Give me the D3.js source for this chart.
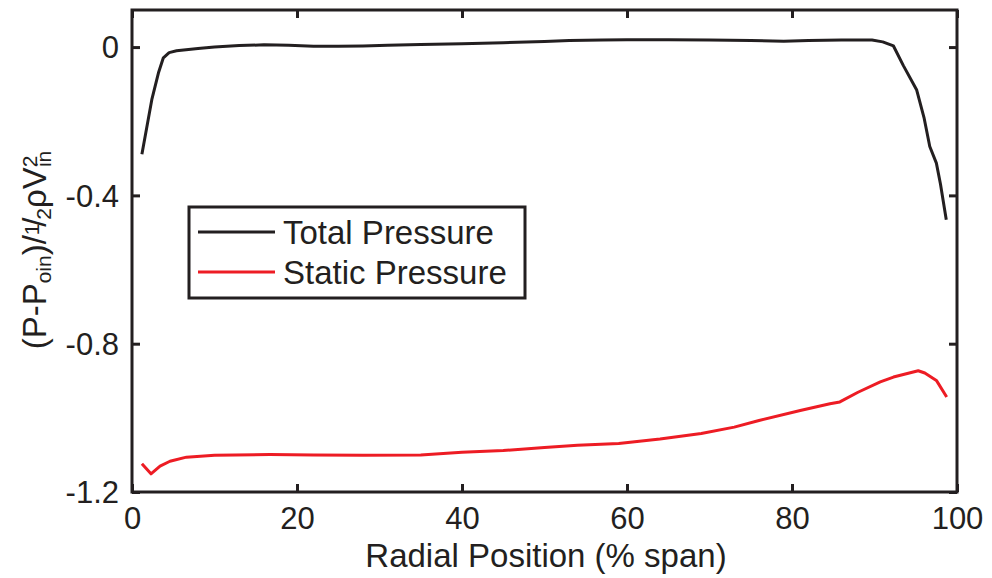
<!DOCTYPE html>
<meta charset="utf-8">
<head>
  <script src="https://d3js.org/d3.v7.min.js"></script>
  <style>
    body { margin: 0; background: #fff; }
    text { font-family: "Liberation Sans", Arial, sans-serif; fill: #231f20; }
  </style>
</head>
<body>
<div id="chart"></div>
<script>
  // radial position (% span) and pressure coefficient
  var totalX = [1.2, 2.4, 3.2, 3.8, 4.5, 5.4, 8, 10, 13, 16, 19, 22, 25, 28, 31, 35, 40, 45, 50, 53, 57, 60, 65, 70, 75, 79, 82, 86, 89.7, 91, 92.3, 93.5, 95.1, 96, 96.7, 97.5, 98, 98.7];
  var totalY = [-0.289, -0.142, -0.07, -0.029, -0.015, -0.01, -0.004, 0, 0.004, 0.006, 0.005, 0.002, 0.002, 0.003, 0.005, 0.007, 0.009, 0.012, 0.015, 0.018, 0.019, 0.02, 0.02, 0.019, 0.018, 0.016, 0.018, 0.019, 0.019, 0.014, 0.003, -0.05, -0.115, -0.19, -0.268, -0.313, -0.37, -0.466];

  var staticX = [1.2, 2.3, 3.4, 4.6, 6.6, 10, 16.7, 22, 28, 35, 40, 45, 50, 54, 59, 64, 69, 73, 76, 81, 84.6, 85.8, 88, 90.7, 92.3, 95.3, 96.1, 97.5, 98.75];
  var staticY = [-1.124, -1.151, -1.13, -1.117, -1.106, -1.101, -1.099, -1.1, -1.101, -1.1, -1.093, -1.088, -1.08, -1.074, -1.069, -1.057, -1.042, -1.025, -1.007, -0.98, -0.962, -0.957, -0.931, -0.903, -0.89, -0.873, -0.879, -0.899, -0.944];

  var xTicks = [0, 20, 40, 60, 80, 100];
  var yTicks = [0, -0.4, -0.8, -1.2];
  var seriesNames = ["Total Pressure", "Static Pressure"];
  var seriesColors = ["#231f20", "#ed1c24"];

  var width = 992, height = 578;
  var plotL = 132, plotR = 957, plotT = 10, plotB = 492;

  var x = d3.scaleLinear().domain([0, 100]).range([plotL, plotR]);
  var y = d3.scaleLinear().domain([-1.2, 0.1]).range([plotB, plotT]);

  var svg = d3.select("#chart").append("svg")
          .attr("width", width)
          .attr("height", height);

  var line = d3.line()
          .x(function (d) { return x(d[0]); })
          .y(function (d) { return y(d[1]); });

  var series = [
    d3.zip(totalX, totalY),
    d3.zip(staticX, staticY)
  ];

  svg.selectAll("path.series").data(series).enter()
          .append("path")
          .attr("class", "series")
          .attr("fill", "none")
          .attr("stroke", function (d, i) { return seriesColors[i]; })
          .attr("stroke-width", 3)
          .attr("stroke-linejoin", "round")
          .attr("d", line);

  // axes with inward ticks, mirrored on all four sides
  var tickLen = 8;
  var gb = svg.append("g").attr("transform", "translate(0," + plotB + ")")
          .call(d3.axisBottom(x).tickValues(xTicks).tickSizeInner(-tickLen).tickSizeOuter(0).tickPadding(15));
  var gt = svg.append("g").attr("transform", "translate(0," + plotT + ")")
          .call(d3.axisTop(x).tickValues(xTicks).tickSizeInner(-tickLen).tickSizeOuter(0).tickFormat(""));
  var gl = svg.append("g").attr("transform", "translate(" + plotL + ",0)")
          .call(d3.axisLeft(y).tickValues(yTicks).tickSizeInner(-tickLen).tickSizeOuter(0).tickPadding(13)
                  .tickFormat(function (d) { return d === 0 ? "0" : d3.format(".1f")(d).replace("\u2212", "-"); }));
  var gr = svg.append("g").attr("transform", "translate(" + plotR + ",0)")
          .call(d3.axisRight(y).tickValues(yTicks).tickSizeInner(-tickLen).tickSizeOuter(0).tickFormat(""));

  [gb, gt, gl, gr].forEach(function (g) {
    g.select(".domain").remove();
    g.selectAll(".tick line").attr("stroke", "#231f20").attr("stroke-width", 3);
    g.selectAll(".tick text").style("font-size", "31px").attr("fill", "#231f20");
  });
  gl.selectAll(".tick text").attr("dy", "0.35em");

  svg.append("rect")
          .attr("x", plotL).attr("y", plotT)
          .attr("width", plotR - plotL).attr("height", plotB - plotT)
          .attr("fill", "none")
          .attr("stroke", "#231f20")
          .attr("stroke-width", 3);

  // x label
  svg.append("text")
          .attr("x", 546)
          .attr("y", 567)
          .attr("text-anchor", "middle")
          .style("font-size", "33px")
          .text("Radial Position (% span)");

  // y label with sub/superscripts
  var yl = svg.append("text")
          .attr("transform", "translate(46,250) rotate(-90)")
          .attr("text-anchor", "middle")
          .style("font-size", "33px");
  yl.append("tspan").text("(P-P");
  yl.append("tspan").attr("baseline-shift", "-25%").style("font-size", "21px").text("oin");
  yl.append("tspan").text(")/");
  yl.append("tspan").attr("baseline-shift", "35%").style("font-size", "21px").text("1");
  yl.append("tspan").attr("dx", "-0.1em").text("/");
  yl.append("tspan").attr("dx", "-0.1em").attr("baseline-shift", "-25%").style("font-size", "21px").text("2");
  yl.append("tspan").text("\u03c1V");
  yl.append("tspan").attr("baseline-shift", "45%").style("font-size", "21px").text("2");
  yl.append("tspan").attr("dx", "-0.55em").attr("baseline-shift", "-25%").style("font-size", "21px").text("in");

  // legend
  var lg = svg.append("g");
  lg.append("rect")
          .attr("x", 189).attr("y", 207)
          .attr("width", 336).attr("height", 91)
          .attr("fill", "#fff")
          .attr("stroke", "#231f20")
          .attr("stroke-width", 3);
  var rows = lg.selectAll("g.row").data(seriesNames).enter()
          .append("g")
          .attr("class", "row")
          .attr("transform", function (d, i) { return "translate(0," + (232 + i * 40) + ")"; });
  rows.append("line")
          .attr("x1", 198).attr("x2", 275)
          .attr("stroke", function (d, i) { return seriesColors[i]; })
          .attr("stroke-width", 3);
  rows.append("text")
          .attr("x", 283)
          .attr("dy", "0.35em")
          .style("font-size", "33px")
          .text(function (d) { return d; });
</script>
</body>
